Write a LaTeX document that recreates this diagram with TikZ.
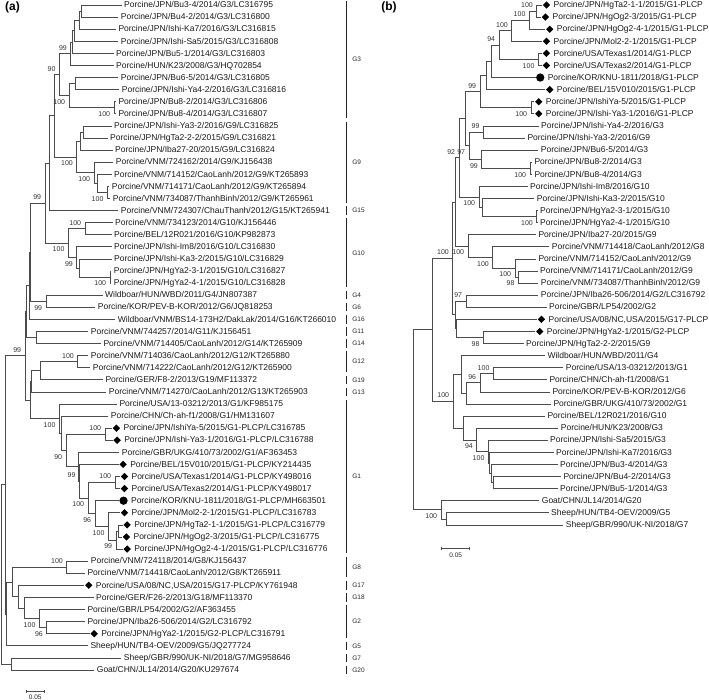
\documentclass[tikz,border=0pt]{standalone}
\usepackage{fontspec}
\setmainfont{Liberation Sans}
\usetikzlibrary{positioning,shapes.geometric}

\tikzset{
  branch/.style={draw=black!70, line width=0.65pt},
  tiplab/.style={inner sep=0pt, text=black!90, font=\fontsize{8.5}{10}\selectfont, text height=6.1pt, text depth=0.6pt},
  mkdia/.style={diamond, fill=black, inner sep=0pt, minimum size=7.5pt},
  mkdot/.style={circle, fill=black, inner sep=0pt, minimum size=8.3pt},
  bsval/.style={inner sep=0pt, text=black!80, font=\fontsize{7}{8}\selectfont},
  bsup/.style={bsval, anchor=south east, xshift=-3.7pt, yshift=3.3pt},
  bsdn/.style={bsval, anchor=north east, xshift=-3.7pt, yshift=-3.8pt},
  gbar/.style={draw=black!85, line width=1.2pt},
  glab/.style={inner sep=0pt, anchor=west, text=black!85, font=\fontsize{6.5}{7}\selectfont},
  panel/.style={inner sep=0pt, font=\fontsize{12}{14}\selectfont\bfseries},
}

\begin{document}
\begin{tikzpicture}
\useasboundingbox (0pt,0pt) rectangle (709pt,-700pt);

% trees: x in pt, y in rows
\begin{scope}[x=1pt, y=-12.09pt, yshift=7.09pt]

  % ---------- panel (a) tips
  \foreach \i/\x/\txt in {
     1/121.5/{Porcine/JPN/Bu3-4/2014/G3/LC316795},
     2/118.2/{Porcine/JPN/Bu4-2/2014/G3/LC316800},
     3/115.8/{Porcine/JPN/Ishi-Ka7/2016/G3/LC316815},
     4/118.2/{Porcine/JPN/Ishi-Sa5/2015/G3/LC316808},
     5/113.5/{Porcine/JPN/Bu5-1/2014/G3/LC316803},
     6/113.5/{Porcine/HUN/K23/2008/G3/HQ702854},
     7/118.2/{Porcine/JPN/Bu6-5/2014/G3/LC316805},
     8/119.2/{Porcine/JPN/Ishi-Ya4-2/2016/G3/LC316816},
     9/115.8/{Porcine/JPN/Bu8-2/2014/G3/LC316806},
     10/115.8/{Porcine/JPN/Bu8-4/2014/G3/LC316807},
     11/111.5/{Porcine/JPN/Ishi-Ya3-2/2016/G9/LC316825},
     12/107.5/{Porcine/JPN/HgTa2-2-2/2015/G9/LC316821},
     13/112.5/{Porcine/JPN/Iba27-20/2015/G9/LC316824},
     14/113.2/{Porcine/VNM/724162/2014/G9/KJ156438},
     15/111.5/{Porcine/VNM/714152/CaoLanh/2012/G9/KT265893},
     16/109.2/{Porcine/VNM/714171/CaoLanh/2012/G9/KT265894},
     17/110.2/{Porcine/VNM/734087/ThanhBinh/2012/G9/KT265961},
     18/118.2/{Porcine/VNM/724307/ChauThanh/2012/G15/KT265941},
     19/112.5/{Porcine/VNM/734123/2014/G10/KJ156446},
     20/111.5/{Porcine/BEL/12R021/2016/G10/KP982873},
     21/111.5/{Porcine/JPN/Ishi-Im8/2016/G10/LC316830},
     22/111.5/{Porcine/JPN/Ishi-Ka3-2/2015/G10/LC316829},
     23/111.2/{Porcine/JPN/HgYa2-3-1/2015/G10/LC316827},
     24/111.2/{Porcine/JPN/HgYa2-4-1/2015/G10/LC316828},
     25/102.5/{Wildboar/HUN/WBD/2011/G4/JN807387},
     26/95.2/{Porcine/KOR/PEV-B-KOR/2012/G6/JQ818253},
     27/115.2/{Wildboar/VNM/BS14-173H2/DakLak/2014/G16/KT266010},
     28/88.2/{Porcine/VNM/744257/2014/G11/KJ156451},
     29/100.8/{Porcine/VNM/714405/CaoLanh/2012/G14/KT265909},
     30/88.2/{Porcine/VNM/714036/CaoLanh/2012/G12/KT265880},
     31/90.2/{Porcine/VNM/714222/CaoLanh/2012/G12/KT265900},
     32/102.8/{Porcine/GER/F8-2/2013/G19/MF113372},
     33/106.2/{Porcine/VNM/714270/CaoLanh/2012/G13/KT265903},
     34/116.8/{Porcine/USA/13-03212/2013/G1/KF985175},
     35/108.2/{Porcine/CHN/Ch-ah-f1/2008/G1/HM131607},
     38/119.2/{Porcine/GBR/UKG/410/73/2002/G1/AF363453},
     47/88.2/{Porcine/VNM/724118/2014/G8/KJ156437},
     48/84.8/{Porcine/VNM/714418/CaoLanh/2012/G8/KT265911},
     50/93.5/{Porcine/GER/F26-2/2013/G18/MF113370},
     51/84.8/{Porcine/GBR/LP54/2002/G2/AF363455},
     52/84.8/{Porcine/JPN/Iba26-506/2014/G2/LC316792},
     54/87.8/{Sheep/HUN/TB4-OEV/2009/G5/JQ277724},
     55/121.2/{Sheep/GBR/990/UK-NI/2018/G7/MG958646},
     56/94.2/{Goat/CHN/JL14/2014/G20/KU297674}} {
    \coordinate (ta\i) at (\x,\i);
    \node[tiplab, right=2.5pt of ta\i] (la\i) {\txt};
  }
  \foreach \i/\x/\txt in {
     36/112/{Porcine/JPN/IshiYa-5/2015/G1-PLCP/LC316785},
     37/112.7/{Porcine/JPN/Ishi-Ya3-1/2016/G1-PLCP/LC316788},
     39/118.7/{Porcine/BEL/15V010/2015/G1-PLCP/KY214435},
     40/120/{Porcine/USA/Texas1/2014/G1-PLCP/KY498016},
     41/120/{Porcine/USA/Texas2/2014/G1-PLCP/KY498017},
     43/120/{Porcine/JPN/Mol2-2-1/2015/G1-PLCP/LC316783},
     44/122.7/{Porcine/JPN/HgTa2-1-1/2015/G1-PLCP/LC316779},
     45/122/{Porcine/JPN/HgOg2-3/2015/G1-PLCP/LC316775},
     46/122.7/{Porcine/JPN/HgOg2-4-1/2015/G1-PLCP/LC316776},
     49/84.3/{Porcine/USA/08/NC,USA/2015/G17-PLCP/KY761948},
     53/89.7/{Porcine/JPN/HgYa2-1/2015/G2-PLCP/LC316791}} {
    \coordinate (ta\i) at (\x,\i);
    \node[mkdia, right=0.5pt of ta\i] (ma\i) {};
    \node[tiplab, right=3pt of ma\i] (la\i) {\txt};
  }
  \coordinate (ta42) at (118.9,42);
  \node[mkdot, right=0.3pt of ta42] (ma42) {};
  \node[tiplab, right=3pt of ma42] (la42) {Porcine/KOR/KNU-1811/2018/G1-PLCP/MH663501};

  % panel (a) inner nodes
  \foreach \n/\x/\y in {
     na1-2/81/1.5, na1-3/79/2.25, na1-4/74/3.125, na1-5/72.7/4.0625, na1-6/70.7/5.03125,
     na7-8/75/7.5, na9-10/114/9.5, na7-10/69/8.5, na1-10/59.3/6.765625,
     na11-12/83.3/11.5, na11-13/80/12.25, na16-17/107.3/16.5, na15-17/97.3/15.75,
     na14-17/94/14.875, na11-17/76.7/13.5625, na1-17/54/10.1640625, na1-18/49.3/14.08203,
     na19-20/85/19.5, na23-24/110/23.5, na22-24/79/22.75, na21-24/76.7/21.875,
     na19-24/68.3/20.6875, na1-24/45/17.38477, na25-26/46/25.5, na1-26/30/21.44238,
     na1-27/29.3/24.22119, na28-29/36/28.5, na1-29/26.7/26.3606,
     na30-31/77.7/30.5, na30-32/40.7/31.25, na30-33/31.5/32.125,
     na36-37/105/36.5, na40-41/115/40.5, na44-45/118.3/44.5, na44-46/116/45.25,
     na43-46/108.3/44.125, na42-46/95/43.0625, na40-46/88/41.78125, na39-46/79.3/40.390625,
     na38-46/78.3/39.1953, na36-46/66/37.8477, na35-46/61.7/36.4238, na34-46/59.3/35.2119,
     na30-46/30.7/33.6685, na1-46/25/30.01455,
     na47-48/66.7/47.5, na52-53/46.7/52.5, na51-53/39.3/51.75, na50-53/24/50.875,
     na49-53/18.3/49.9375, na47-53/12.7/48.71875, na47-54/6.7/51.359, na1-54/5/40.687,
     na55-56/11.7/55.5, na1-56/1.5/48.09}
    \coordinate (\n) at (\x,\y);

  % panel (a) branches
  \foreach \p/\c in {
     na1-2/ta1, na1-2/ta2, na1-3/na1-2, na1-3/ta3, na1-4/na1-3, na1-4/ta4,
     na1-5/na1-4, na1-5/ta5, na1-6/na1-5, na1-6/ta6, na7-8/ta7, na7-8/ta8,
     na9-10/ta9, na9-10/ta10, na7-10/na7-8, na7-10/na9-10, na1-10/na1-6, na1-10/na7-10,
     na11-12/ta11, na11-12/ta12, na11-13/na11-12, na11-13/ta13,
     na16-17/ta16, na16-17/ta17, na15-17/ta15, na15-17/na16-17,
     na14-17/ta14, na14-17/na15-17, na11-17/na11-13, na11-17/na14-17,
     na1-17/na1-10, na1-17/na11-17, na1-18/na1-17, na1-18/ta18,
     na19-20/ta19, na19-20/ta20, na23-24/ta23, na23-24/ta24,
     na22-24/ta22, na22-24/na23-24, na21-24/ta21, na21-24/na22-24,
     na19-24/na19-20, na19-24/na21-24, na1-24/na1-18, na1-24/na19-24,
     na25-26/ta25, na25-26/ta26, na1-26/na1-24, na1-26/na25-26,
     na1-27/na1-26, na1-27/ta27, na28-29/ta28, na28-29/ta29,
     na1-29/na1-27, na1-29/na28-29,
     na30-31/ta30, na30-31/ta31, na30-32/na30-31, na30-32/ta32,
     na30-33/na30-32, na30-33/ta33,
     na36-37/ta36, na36-37/ta37, na40-41/ta40, na40-41/ta41,
     na44-45/ta44, na44-45/ta45, na44-46/na44-45, na44-46/ta46,
     na43-46/ta43, na43-46/na44-46, na42-46/ta42, na42-46/na43-46,
     na40-46/na40-41, na40-46/na42-46, na39-46/ta39, na39-46/na40-46,
     na38-46/ta38, na38-46/na39-46, na36-46/na36-37, na36-46/na38-46,
     na35-46/ta35, na35-46/na36-46, na34-46/ta34, na34-46/na35-46,
     na30-46/na30-33, na30-46/na34-46, na1-46/na1-29, na1-46/na30-46,
     na47-48/ta47, na47-48/ta48, na52-53/ta52, na52-53/ta53,
     na51-53/ta51, na51-53/na52-53, na50-53/ta50, na50-53/na51-53,
     na49-53/ta49, na49-53/na50-53, na47-53/na47-48, na47-53/na49-53,
     na47-54/na47-53, na47-54/ta54, na1-54/na1-46, na1-54/na47-54,
     na55-56/ta55, na55-56/ta56, na1-56/na1-54, na1-56/na55-56}
    \draw[branch] (\p) |- (\c);

  % panel (a) bootstrap values
  \foreach \n/\v in {na1-6/99, na1-10/90, na1-24/99, na19-20/100, na1-46/99,
     na30-31/100, na36-37/100, na40-41/100, na39-46/99, na47-48/100}
    \node[bsup] (bs-\n) at (\n) {\v};
  \foreach \n/\v in {na9-10/100, na7-10/100, na11-17/100, na14-17/100, na16-17/100,
     na19-24/100, na21-24/99, na23-24/100, na25-26/99, na34-46/100, na36-46/90,
     na40-46/100, na42-46/96, na43-46/100, na44-46/99, na51-53/100, na52-53/96}
    \node[bsdn] (bs-\n) at (\n) {\v};

  % genotype bars
  \foreach \a/\b/\g in {1/10/G3, 11/17/G9, 18/18/G15, 19/24/G10, 25/25/G4, 26/26/G6,
     27/27/G16, 28/28/G11, 29/29/G14, 30/31/G12, 32/32/G19, 33/33/G13, 34/46/G1,
     47/48/G8, 49/49/G17, 50/50/G18, 51/53/G2, 54/54/G5, 55/55/G7, 56/56/G20} {
    \draw[gbar] (346.7,{\a-0.35}) -- (346.7,{\b+0.35});
    \node[glab] (gl-\g) at (352.2,{(\a+\b)/2}) {\g};
  }

  % ---------- panel (b) tips
  \foreach \i/\x/\txt in {
     11/538.5/{Porcine/JPN/Ishi-Ya4-2/2016/G3},
     12/524.8/{Porcine/JPN/Ishi-Ya3-2/2016/G9},
     13/538.2/{Porcine/JPN/Bu6-5/2014/G3},
     14/531.8/{Porcine/JPN/Bu8-2/2014/G3},
     15/531.8/{Porcine/JPN/Bu8-4/2014/G3},
     16/527.5/{Porcine/JPN/Ishi-Im8/2016/G10},
     17/534.2/{Porcine/JPN/Ishi-Ka3-2/2015/G10},
     18/537.5/{Porcine/JPN/HgYa2-3-1/2015/G10},
     19/537.5/{Porcine/JPN/HgYa2-4-1/2015/G10},
     20/535.8/{Porcine/JPN/Iba27-20/2015/G9},
     21/549.2/{Porcine/VNM/714418/CaoLanh/2012/G8},
     22/535.8/{Porcine/VNM/714152/CaoLanh/2012/G9},
     23/537.5/{Porcine/VNM/714171/CaoLanh/2012/G9},
     24/538.2/{Porcine/VNM/734087/ThanhBinh/2012/G9},
     25/538.2/{Porcine/JPN/Iba26-506/2014/G2/LC316792},
     26/546.5/{Porcine/GBR/LP54/2002/G2},
     29/523.5/{Porcine/JPN/HgTa2-2-2/2015/G9},
     30/544.8/{Wildboar/HUN/WBD/2011/G4},
     31/563.2/{Porcine/USA/13-03212/2013/G1},
     32/546.8/{Porcine/CHN/Ch-ah-f1/2008/G1},
     33/549.8/{Porcine/KOR/PEV-B-KOR/2012/G6},
     34/550.8/{Porcine/GBR/UKG/410/73/2002/G1},
     35/544.8/{Porcine/BEL/12R021/2016/G10},
     36/558.2/{Porcine/HUN/K23/2008/G3},
     37/547.5/{Porcine/JPN/Ishi-Sa5/2015/G3},
     38/553.5/{Porcine/JPN/Ishi-Ka7/2016/G3},
     39/557.5/{Porcine/JPN/Bu3-4/2014/G3},
     40/560.8/{Porcine/JPN/Bu4-2/2014/G3},
     41/557.5/{Porcine/JPN/Bu5-1/2014/G3},
     42/539.2/{Goat/CHN/JL14/2014/G20},
     43/548.5/{Sheep/HUN/TB4-OEV/2009/G5},
     44/563.2/{Sheep/GBR/990/UK-NI/2018/G7}} {
    \coordinate (tb\i) at (\x,\i);
    \node[tiplab, right=2.5pt of tb\i] (lb\i) {\txt};
  }
  \foreach \i/\x/\txt in {
     1/542/{Porcine/JPN/HgTa2-1-1/2015/G1-PLCP},
     2/541/{Porcine/JPN/HgOg2-3/2015/G1-PLCP},
     3/545.3/{Porcine/JPN/HgOg2-4-1/2015/G1-PLCP},
     4/542/{Porcine/JPN/Mol2-2-1/2015/G1-PLCP},
     5/542/{Porcine/USA/Texas1/2014/G1-PLCP},
     6/542/{Porcine/USA/Texas2/2014/G1-PLCP},
     8/545.3/{Porcine/BEL/15V010/2015/G1-PLCP},
     9/534.3/{Porcine/JPN/IshiYa-5/2015/G1-PLCP},
     10/534.3/{Porcine/JPN/Ishi-Ya3-1/2016/G1-PLCP},
     27/537/{Porcine/USA/08/NC,USA/2015/G17-PLCP},
     28/535.3/{Porcine/JPN/HgYa2-1/2015/G2-PLCP}} {
    \coordinate (tb\i) at (\x,\i);
    \node[mkdia, right=0.5pt of tb\i] (mb\i) {};
    \node[tiplab, right=3pt of mb\i] (lb\i) {\txt};
  }
  \coordinate (tb7) at (535.6,7);
  \node[mkdot, right=0.3pt of tb7] (mb7) {};
  \node[tiplab, right=3pt of mb7] (lb7) {Porcine/KOR/KNU-1811/2018/G1-PLCP};

  % panel (b) inner nodes
  \foreach \n/\x/\y in {
     nb1-2/536.7/1.5, nb1-3/529.3/2.25, nb1-4/511.7/3.125, nb5-6/538.3/5.5,
     nb1-6/499/4.3125, nb1-7/491.7/5.65625, nb1-8/486/6.828125, nb9-10/531/9.5,
     nb1-10/480/8.1640625, nb11-12/483.3/11.5, nb14-15/530/14.5, nb13-15/481.7/13.75,
     nb11-15/469/12.625, nb1-15/465/10.39453, nb18-19/536.7/18.5, nb17-19/482.7/17.75,
     nb16-19/479/16.875, nb1-19/459/13.63477, nb23-24/518.3/23.5, nb22-24/515/22.75,
     nb21-24/492.7/21.875, nb20-24/468/20.9375, nb1-24/455/17.28613,
     nb25-26/466/25.5, nb28-29/483.3/28.5, nb27-29/456/27.75, nb25-29/455/26.625,
     nb1-29/452.7/21.95557, nb31-32/493.3/31.5, nb31-33/480/32.25, nb31-34/466/33.125,
     nb30-34/461.7/31.5625, nb40-41/493.3/40.5, nb39-41/491.7/39.75, nb38-41/489.3/38.875,
     nb37-41/488.3/37.9375, nb36-41/476.7/36.96875, nb35-41/463/35.984375,
     nb30-41/453/33.7734, nb1-41/432.3/27.8645, nb43-44/446.7/43.5, nb42-44/441/42.75,
     nb1-44/413.3/35.307}
    \coordinate (\n) at (\x,\y);

  % panel (b) branches
  \foreach \p/\c in {
     nb1-2/tb1, nb1-2/tb2, nb1-3/nb1-2, nb1-3/tb3, nb1-4/nb1-3, nb1-4/tb4,
     nb5-6/tb5, nb5-6/tb6, nb1-6/nb1-4, nb1-6/nb5-6, nb1-7/nb1-6, nb1-7/tb7,
     nb1-8/nb1-7, nb1-8/tb8, nb9-10/tb9, nb9-10/tb10, nb1-10/nb1-8, nb1-10/nb9-10,
     nb11-12/tb11, nb11-12/tb12, nb14-15/tb14, nb14-15/tb15,
     nb13-15/tb13, nb13-15/nb14-15, nb11-15/nb11-12, nb11-15/nb13-15,
     nb1-15/nb1-10, nb1-15/nb11-15, nb18-19/tb18, nb18-19/tb19,
     nb17-19/tb17, nb17-19/nb18-19, nb16-19/tb16, nb16-19/nb17-19,
     nb1-19/nb1-15, nb1-19/nb16-19, nb23-24/tb23, nb23-24/tb24,
     nb22-24/tb22, nb22-24/nb23-24, nb21-24/tb21, nb21-24/nb22-24,
     nb20-24/tb20, nb20-24/nb21-24, nb1-24/nb1-19, nb1-24/nb20-24,
     nb25-26/tb25, nb25-26/tb26, nb28-29/tb28, nb28-29/tb29,
     nb27-29/tb27, nb27-29/nb28-29, nb25-29/nb25-26, nb25-29/nb27-29,
     nb1-29/nb1-24, nb1-29/nb25-29,
     nb31-32/tb31, nb31-32/tb32, nb31-33/nb31-32, nb31-33/tb33,
     nb31-34/nb31-33, nb31-34/tb34, nb30-34/tb30, nb30-34/nb31-34,
     nb40-41/tb40, nb40-41/tb41, nb39-41/tb39, nb39-41/nb40-41,
     nb38-41/tb38, nb38-41/nb39-41, nb37-41/tb37, nb37-41/nb38-41,
     nb36-41/tb36, nb36-41/nb37-41, nb35-41/tb35, nb35-41/nb36-41,
     nb30-41/nb30-34, nb30-41/nb35-41, nb1-41/nb1-29, nb1-41/nb30-41,
     nb43-44/tb43, nb43-44/tb44, nb42-44/tb42, nb42-44/nb43-44,
     nb1-44/nb1-41, nb1-44/nb42-44}
    \draw[branch] (\p) |- (\c);

  % panel (b) bootstrap values
  \foreach \n/\v in {nb1-2/100, nb1-3/100, nb1-4/100, nb1-6/94, nb1-10/99, nb11-12/99,
     nb1-19/92, nb25-26/97, nb1-29/100, nb31-32/100, nb31-33/96, nb30-41/100}
    \node[bsup] (bs-\n) at (\n) {\v};
  \foreach \n/\v in {nb5-6/100, nb9-10/100, nb14-15/100, nb13-15/99, nb11-15/97,
     nb16-19/100, nb18-19/100, nb23-24/98, nb22-24/100, nb21-24/100, nb20-24/100,
     nb28-29/98, nb37-41/100, nb36-41/94, nb42-44/100}
    \node[bsdn] (bs-\n) at (\n) {\v};
\end{scope}

% panel letters and scale bars
\begin{scope}[x=1pt, y=-1pt]
  \node[panel] (pa) at (12.5,7) {(a)};
  \node[panel] (pb) at (389,7) {(b)};
  \draw[branch] (26,690.2) -- (26,693.2) (26,691.7) -- (44.3,691.7) (44.3,690.2) -- (44.3,693.2);
  \node[glab, anchor=center] (sca) at (35.2,697) {0.05};
  \draw[branch] (441.7,546.5) -- (441.7,549.5) (441.7,548) -- (469.7,548) (469.7,546.5) -- (469.7,549.5);
  \node[glab, anchor=center] (scb) at (455.7,555) {0.05};
\end{scope}
\end{tikzpicture}
\end{document}
